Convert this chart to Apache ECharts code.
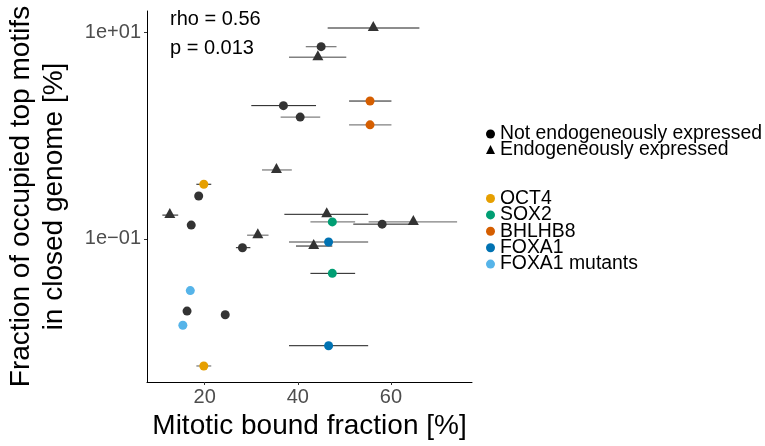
<!DOCTYPE html>
<html>
<head>
<meta charset="utf-8">
<script src="https://cdn.jsdelivr.net/npm/echarts@6/dist/echarts.min.js"></script>
<style>
  html, body { margin: 0; padding: 0; background: #fff; }
  #chart { width: 765px; height: 446px; }
</style>
</head>
<body>
<div id="chart"></div>
<script>
// Mitotic bound fraction (x, %) vs fraction of occupied top motifs in closed genome (y, %, log scale)
const mitoticBound = [56.2, 45.0, 44.3, 36.9, 40.5, 55.5, 55.5, 35.4, 19.8, 18.7, 12.5, 46.2, 47.4, 58.1,
                      64.8, 17.1, 31.4, 46.6, 43.4, 28.1, 47.4, 16.9, 16.2, 24.4, 15.3, 46.6, 19.8];
const occupiedClosed = [11.0, 7.26, 5.73, 1.95, 1.51, 2.16, 1.27, 0.465, 0.338, 0.260, 0.170, 0.173, 0.146, 0.139,
                        0.146, 0.136, 0.1086, 0.0933, 0.0853, 0.0822, 0.0464, 0.0316, 0.0200, 0.01845, 0.0146, 0.00925, 0.00589];
const mitoticLow = [46.4, 41.7, 38.1, 30.0, 36.3, 51.0, 51.0, 32.3, 18.2, 18.0, 10.9, 37.1, 42.7, 51.9,
                    55.2, null, 29.1, 38.1, 39.6, 26.7, 42.7, null, null, null, null, 38.1, 18.2];
const mitoticHigh = [66.1, 48.3, 50.4, 43.9, 44.8, 60.1, 60.1, 38.7, 21.4, 19.6, 14.3, 55.1, 52.3, 64.4,
                     74.2, null, 33.7, 55.1, 47.4, 29.8, 52.3, null, null, null, null, 55.1, 21.4];
const NOT = 'Not endogeneously expressed';
const ENDO = 'Endogeneously expressed';
const pointGroup = [ENDO, NOT, ENDO, NOT, NOT, 'BHLHB8', 'BHLHB8', ENDO, 'OCT4', NOT, ENDO, ENDO, 'SOX2', NOT,
                    ENDO, NOT, ENDO, 'FOXA1', ENDO, NOT, 'SOX2', 'FOXA1 mutants', NOT, NOT, 'FOXA1 mutants', 'FOXA1', 'OCT4'];
const shapeLegend = [NOT, ENDO];
const factorLegend = ['OCT4', 'SOX2', 'BHLHB8', 'FOXA1', 'FOXA1 mutants'];
const xTicks = [20, 40, 60];
const yTicks = [0.1, 10];
const rho = '0.56';
const pValue = '0.013';

// Styling
const groupColor = {
  [NOT]: '#333333', [ENDO]: '#333333',
  'OCT4': '#E69F00', 'SOX2': '#009E73', 'BHLHB8': '#D55E00', 'FOXA1': '#0072B2', 'FOXA1 mutants': '#56B4E9'
};
const groupSymbol = { [ENDO]: 'triangle' };
// error bar shade per point: 1 = dark, 0 = light
const barShade = [1, 0, 0, 1, 0, 1, 0, 0, 1, 1, 1, 1, 0, 1, 0, 1, 0, 0, 1, 1, 1, 1, 1, 1, 1, 1, 0];

const FONT = '"Liberation Sans", Arial, Helvetica, sans-serif';

const bars = [];
mitoticBound.forEach((x, i) => {
  if (mitoticLow[i] != null) bars.push([mitoticLow[i], mitoticHigh[i], occupiedClosed[i], barShade[i]]);
});

const groups = shapeLegend.concat(factorLegend);
const pointSeries = groups.map(g => {
  const data = [];
  mitoticBound.forEach((x, i) => { if (pointGroup[i] === g) data.push([x, occupiedClosed[i]]); });
  const tri = groupSymbol[g] === 'triangle';
  return {
    name: g,
    type: 'scatter',
    data: data,
    symbol: tri ? 'triangle' : 'circle',
    symbolSize: tri ? [11, 10] : 9,
    symbolOffset: tri ? [0, -2] : [0, 0],
    itemStyle: { color: groupColor[g], opacity: 1 },
    z: 3,
    silent: true
  };
});

const legendText = { fontSize: 19.4, color: '#000', fontFamily: FONT };

const chart = echarts.init(document.getElementById('chart'), null, { renderer: 'canvas' });
chart.setOption({
  backgroundColor: '#ffffff',
  animation: false,
  textStyle: { fontFamily: FONT },
  grid: { left: 147, right: 293, top: 11, bottom: 64, containLabel: false },
  xAxis: {
    type: 'value',
    min: 7.6,
    max: 77.4,
    name: 'Mitotic bound fraction [%]',
    nameLocation: 'middle',
    nameGap: 29,
    nameTextStyle: { fontSize: 28, color: '#000', fontFamily: FONT, lineHeight: 28 },
    axisLine: { show: true, onZero: false, lineStyle: { color: '#000', width: 1 } },
    axisTick: { show: true, length: 3, customValues: xTicks, lineStyle: { color: '#333', width: 1 } },
    axisLabel: { customValues: xTicks, fontSize: 20, color: '#4d4d4d', margin: 5, fontFamily: FONT },
    splitLine: { show: false }
  },
  yAxis: {
    type: 'log',
    logBase: 10,
    min: 0.00412,
    max: 16.07,
    name: 'Fraction of occupied top motifs\nin closed genome [%]',
    nameLocation: 'middle',
    nameGap: 76,
    nameRotate: 90,
    nameTextStyle: { fontSize: 28, color: '#000', fontFamily: FONT, lineHeight: 33 },
    axisLine: { show: true, onZero: false, lineStyle: { color: '#000', width: 1 } },
    axisTick: { show: true, length: 3, customValues: yTicks, lineStyle: { color: '#333', width: 1 } },
    axisLabel: {
      customValues: yTicks, fontSize: 20, color: '#4d4d4d', margin: 6, fontFamily: FONT,
      formatter: v => (v >= 1 ? '1e+01' : '1e\u221201')
    },
    splitLine: { show: false }
  },
  legend: [
    {
      data: shapeLegend.map(n => ({ name: n, itemStyle: { color: '#000' } })),
      orient: 'vertical', left: 486, top: 124.5, padding: 0,
      itemWidth: 9, itemHeight: 9, itemGap: -3.4,
      selectedMode: false,
      textStyle: legendText
    },
    {
      data: factorLegend.map(n => ({ name: n, icon: 'circle' })),
      orient: 'vertical', left: 486, top: 189, padding: 0,
      itemWidth: 9, itemHeight: 9, itemGap: -2.6,
      selectedMode: false,
      textStyle: legendText
    }
  ],
  graphic: [
    { type: 'text', left: 170, top: 9, style: { text: 'rho = ' + rho, font: '20px ' + FONT, fill: '#000' } },
    { type: 'text', left: 170, top: 38, style: { text: 'p = ' + pValue, font: '20px ' + FONT, fill: '#000' } }
  ],
  series: [
    {
      type: 'custom',
      name: 'error bars',
      data: bars,
      encode: { x: [0, 1], y: 2 },
      z: 2,
      silent: true,
      renderItem: (params, api) => {
        const a = api.coord([api.value(0), api.value(2)]);
        const b = api.coord([api.value(1), api.value(2)]);
        const dark = api.value(3) === 1;
        return {
          type: 'line',
          shape: { x1: a[0], y1: a[1], x2: b[0], y2: b[1] },
          style: { stroke: dark ? '#1a1a1a' : '#808080', lineWidth: dark ? 1 : 1.3 }
        };
      }
    }
  ].concat(pointSeries)
});
</script>
</body>
</html>
